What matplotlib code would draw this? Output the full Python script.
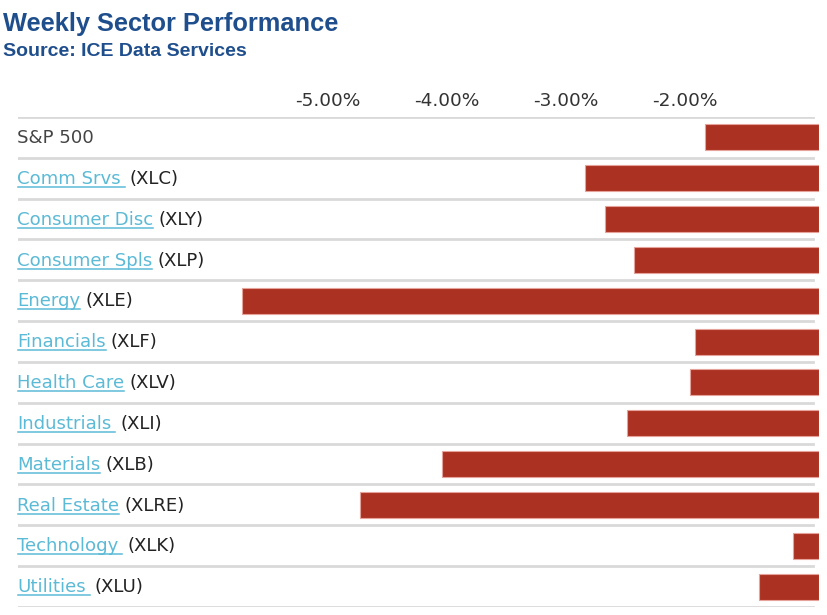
import matplotlib
matplotlib.use("Agg")
import matplotlib.pyplot as plt
from matplotlib.lines import Line2D
from matplotlib.transforms import IdentityTransform
import numpy as np

plt.rcParams["font.family"] = ["DejaVu Sans"]

sectors = ["S&P 500", "Comm Srvs ", "Consumer Disc", "Consumer Spls", "Energy", "Financials",
           "Health Care", "Industrials ", "Materials", "Real Estate", "Technology ", "Utilities "]
tickers = ["", "(XLC)", "(XLY)", "(XLP)", "(XLE)", "(XLF)", "(XLV)", "(XLI)", "(XLB)",
           "(XLRE)", "(XLK)", "(XLU)"]
changes = [-1.83, -2.84, -2.67, -2.43, -5.72, -1.92, -1.96, -2.49, -4.04, -4.73, -1.09, -1.38]
tick_values = [-5, -4, -3, -2]
tick_labels = ["-5.00%", "-4.00%", "-3.00%", "-2.00%"]

W, H = 828, 615
fig = plt.figure(figsize=(W / 100, H / 100), dpi=100)
ax_left, ax_right, ax_top, ax_bot = 18, 819.3, 117, 607
ax = fig.add_axes([ax_left / W, 1 - ax_bot / H, (ax_right - ax_left) / W, (ax_bot - ax_top) / H])
xmin, xmax = -7.597, -0.873
n = len(sectors)
y = np.arange(n)
ax.barh(y, [xmax - c for c in changes], left=changes, height=0.64,
        color="#ab3122", edgecolor="#e6a39b", linewidth=0.8, zorder=2)
ax.set_xlim(xmin, xmax)
ax.set_ylim(n - 0.5, -0.5)
for k in range(n + 1):
    ax.axhline(k - 0.5, xmin=0, xmax=(813 - ax_left) / (ax_right - ax_left),
               color="#d9d9d9", lw=2, zorder=1)
for s in ax.spines.values():
    s.set_visible(False)
ax.xaxis.tick_top()
ax.set_xticks(tick_values, tick_labels)
ax.tick_params(axis="x", length=0, pad=5, labelsize=13.3, labelcolor="#333333")
ax.set_yticks([])

link = "#5bbad6"
dark = "#222222"
fs = 13.1
fig.canvas.draw()
renderer = fig.canvas.get_renderer()
x_text = xmin + (17 - ax_left) / ((ax_right - ax_left) / (xmax - xmin))
off = 0.14
for i in range(n):
    if tickers[i] == "":
        ax.text(x_text, i + off, sectors[i], color="#444444", fontsize=fs, va="baseline", ha="left")
        continue
    name = sectors[i].rstrip()
    extra = 4 if sectors[i] != name else 0
    t = ax.text(x_text, i + off, name, color=link, fontsize=fs, va="baseline", ha="left")
    bb = t.get_window_extent(renderer)
    ybase = ax.transData.transform((0, i + off))[1]
    fig.add_artist(Line2D([bb.x0 + 1, bb.x1 + extra], [ybase - 3, ybase - 3], color=link, lw=1.1,
                          transform=IdentityTransform()))
    xd = ax.transData.inverted().transform((bb.x1 + extra + 5, ybase))[0]
    ax.text(xd, i + off, tickers[i], color=dark, fontsize=fs, va="baseline", ha="left")

fig.text(3 / W, 1 - 31.5 / H, "Weekly Sector Performance", family="Liberation Sans",
         weight="bold", fontsize=18.3, color="#1f4e8d", va="baseline", ha="left")
fig.text(3 / W, 1 - 56.5 / H, "Source: ICE Data Services", family="Liberation Sans",
         weight="bold", fontsize=14.0, color="#1f4e8d", va="baseline", ha="left")

fig.savefig("out.png", dpi=100)
